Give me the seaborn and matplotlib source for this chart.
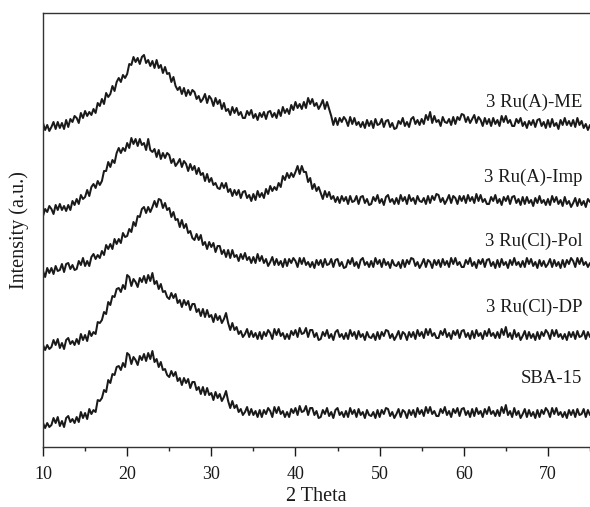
import numpy as np
import pandas as pd
import matplotlib
matplotlib.use("Agg")
import matplotlib.pyplot as plt
import seaborn as sns
from matplotlib.ticker import MultipleLocator

# 2-theta grid: 10..75 deg, step 0.25
theta_start = 10.0
theta_step = 0.25

samples = ["3 Ru(A)-ME", "3 Ru(A)-Imp", "3 Ru(Cl)-Pol", "3 Ru(Cl)-DP", "SBA-15"]

me = [
    324, 317, 322, 316, 320, 325, 318, 325, 319, 324, 318, 327, 320, 328, 325, 331,
    329, 324, 334, 329, 336, 331, 335, 332, 338, 334, 344, 341, 348, 343, 354, 350,
    353, 361, 356, 365, 369, 365, 372, 369, 373, 383, 382, 390, 385, 389, 383, 390,
    392, 384, 387, 381, 386, 379, 387, 379, 382, 374, 380, 373, 374, 365, 370, 361,
    357, 360, 353, 359, 351, 357, 352, 357, 355, 348, 351, 345, 348, 353, 344, 351,
    348, 341, 349, 343, 347, 338, 344, 336, 338, 332, 340, 334, 339, 332, 335, 329,
    329, 336, 332, 337, 329, 333, 327, 334, 330, 335, 328, 335, 336, 330, 334, 329,
    337, 331, 340, 334, 338, 333, 342, 337, 345, 339, 343, 338, 345, 339, 349, 343,
    348, 341, 344, 338, 342, 347, 338, 345, 338, 331, 322, 329, 322, 329, 325, 330,
    327, 321, 330, 323, 329, 322, 325, 320, 325, 319, 327, 321, 326, 319, 328, 322,
    323, 328, 320, 326, 327, 320, 324, 318, 319, 326, 323, 329, 321, 325, 320, 328,
    330, 323, 327, 322, 328, 323, 332, 327, 335, 324, 331, 325, 327, 321, 330, 325,
    324, 328, 322, 330, 323, 330, 327, 333, 332, 325, 330, 324, 328, 332, 324, 330,
    327, 321, 329, 323, 328, 321, 329, 323, 327, 321, 331, 325, 331, 324, 327, 321,
    321, 328, 324, 329, 321, 325, 319, 326, 322, 327, 320, 327, 328, 321, 325, 319,
    327, 320, 328, 321, 324, 318, 327, 322, 329, 322, 326, 321, 327, 320, 329, 322,
    326, 319, 323, 317, 322,
]

imp = [
    231, 238, 235, 241, 238, 233, 242, 237, 243, 237, 241, 236, 242, 237, 246, 242,
    248, 243, 252, 248, 250, 257, 251, 260, 263, 259, 266, 262, 266, 276, 276, 285,
    280, 287, 284, 294, 299, 294, 299, 296, 304, 299, 309, 303, 308, 301, 308, 302,
    304, 297, 308, 297, 295, 298, 290, 297, 288, 294, 289, 294, 292, 284, 288, 281,
    284, 288, 280, 286, 283, 276, 283, 277, 281, 273, 279, 272, 274, 266, 273, 265,
    269, 262, 264, 259, 258, 264, 259, 264, 255, 258, 251, 257, 252, 257, 249, 255,
    256, 249, 252, 246, 253, 247, 256, 250, 254, 249, 258, 253, 261, 256, 260, 257,
    264, 260, 271, 267, 274, 269, 274, 270, 275, 281, 273, 281, 275, 275, 265, 269,
    258, 263, 256, 260, 254, 248, 256, 250, 255, 248, 251, 245, 250, 244, 251, 246,
    250, 243, 251, 245, 246, 251, 243, 250, 251, 244, 248, 242, 243, 250, 246, 252,
    244, 248, 242, 250, 252, 245, 248, 243, 249, 243, 252, 246, 250, 243, 252, 246,
    249, 243, 251, 246, 245, 249, 243, 251, 244, 251, 247, 253, 252, 245, 249, 243,
    247, 252, 244, 251, 249, 243, 251, 246, 251, 244, 252, 246, 250, 244, 253, 246,
    252, 245, 248, 243, 243, 250, 246, 252, 244, 248, 242, 250, 246, 251, 243, 250,
    251, 244, 248, 242, 250, 243, 250, 244, 247, 241, 249, 244, 251, 244, 247, 242,
    248, 242, 251, 245, 250, 243, 247, 241, 250, 243, 246, 240, 244, 249, 241, 248,
    242, 246, 240, 248, 245,
]

pol = [
    176, 170, 179, 174, 179, 173, 181, 176, 177, 183, 175, 183, 184, 178, 182, 177,
    178, 186, 182, 189, 181, 186, 181, 190, 193, 188, 192, 189, 196, 192, 202, 198,
    203, 198, 208, 203, 208, 204, 214, 210, 211, 218, 215, 225, 221, 231, 230, 238,
    240, 234, 240, 235, 240, 246, 240, 248, 247, 239, 244, 237, 239, 230, 235, 227,
    228, 220, 227, 219, 223, 214, 216, 209, 207, 213, 207, 212, 202, 205, 198, 205,
    200, 204, 195, 201, 201, 193, 197, 190, 197, 189, 197, 190, 192, 186, 193, 188,
    194, 187, 190, 184, 190, 184, 193, 186, 191, 184, 188, 181, 185, 190, 182, 188,
    182, 186, 180, 188, 181, 188, 184, 189, 186, 180, 189, 183, 189, 182, 185, 180,
    185, 179, 187, 182, 187, 180, 188, 182, 183, 188, 180, 187, 188, 181, 185, 179,
    180, 187, 183, 189, 181, 185, 179, 187, 189, 182, 185, 180, 186, 180, 189, 183,
    187, 180, 188, 182, 185, 179, 187, 182, 181, 185, 179, 187, 180, 187, 183, 189,
    188, 181, 185, 179, 183, 188, 180, 187, 185, 179, 187, 182, 187, 180, 188, 182,
    186, 180, 189, 183, 189, 182, 185, 180, 180, 187, 183, 189, 181, 185, 179, 187,
    183, 188, 180, 187, 188, 181, 185, 179, 187, 180, 188, 182, 185, 179, 187, 182,
    189, 182, 185, 180, 186, 180, 189, 183, 188, 181, 185, 179, 187, 181, 186, 180,
    183, 188, 180, 187, 181, 185, 179, 187, 180, 187, 183, 189, 186, 180, 189, 183,
    189, 182, 185, 180, 184,
]

dp = [
    102, 97, 102, 98, 100, 107, 102, 108, 99, 104, 98, 107, 109, 103, 106, 102,
    108, 103, 113, 107, 112, 106, 116, 111, 115, 113, 125, 124, 127, 135, 133, 145,
    142, 151, 150, 158, 159, 155, 162, 158, 172, 170, 161, 168, 165, 160, 169, 165,
    171, 164, 172, 166, 174, 163, 166, 158, 163, 155, 156, 150, 148, 154, 149, 153,
    144, 147, 140, 147, 142, 146, 137, 143, 143, 135, 138, 131, 138, 130, 137, 130,
    132, 125, 133, 127, 131, 124, 128, 134, 124, 117, 124, 117, 120, 113, 116, 110,
    113, 118, 110, 116, 110, 114, 108, 115, 108, 115, 111, 117, 114, 108, 118, 112,
    118, 111, 114, 108, 113, 108, 116, 112, 117, 110, 119, 113, 114, 119, 110, 117,
    117, 110, 114, 107, 108, 115, 111, 117, 109, 113, 107, 115, 117, 110, 113, 108,
    114, 108, 117, 111, 115, 108, 116, 110, 113, 107, 115, 110, 109, 113, 107, 115,
    108, 115, 111, 117, 116, 109, 113, 107, 111, 116, 108, 115, 113, 107, 115, 110,
    115, 108, 117, 111, 115, 109, 118, 112, 118, 111, 114, 109, 109, 116, 112, 118,
    110, 114, 108, 116, 112, 117, 109, 116, 117, 110, 114, 108, 116, 109, 117, 111,
    114, 108, 116, 111, 118, 111, 114, 109, 115, 109, 118, 112, 120, 110, 114, 108,
    117, 110, 114, 107, 111, 116, 108, 115, 109, 113, 107, 115, 108, 115, 111, 117,
    114, 108, 117, 111, 117, 110, 113, 108, 113, 107, 115, 110, 115, 108, 116, 110,
    111, 116, 108, 115, 110,
]

sba = [
    24, 19, 24, 20, 22, 29, 24, 30, 21, 26, 20, 29, 31, 25, 28, 24,
    30, 25, 35, 29, 34, 28, 38, 33, 37, 35, 47, 46, 49, 57, 55, 67,
    64, 73, 72, 80, 81, 77, 84, 80, 94, 92, 83, 90, 87, 82, 91, 87,
    93, 86, 94, 88, 96, 85, 88, 80, 85, 77, 78, 72, 70, 76, 71, 75,
    66, 69, 62, 69, 64, 68, 59, 65, 65, 57, 60, 53, 60, 52, 59, 52,
    54, 47, 55, 49, 53, 46, 50, 56, 46, 39, 46, 39, 42, 35, 38, 32,
    35, 40, 32, 38, 32, 36, 30, 37, 30, 37, 33, 39, 36, 30, 40, 34,
    40, 33, 36, 30, 35, 30, 38, 34, 39, 32, 41, 35, 36, 41, 32, 39,
    39, 32, 36, 29, 30, 37, 33, 39, 31, 35, 29, 37, 39, 32, 35, 30,
    36, 30, 39, 33, 37, 30, 38, 32, 35, 29, 37, 32, 31, 35, 29, 37,
    30, 37, 33, 39, 38, 31, 35, 29, 33, 38, 30, 37, 35, 29, 37, 32,
    37, 30, 39, 33, 37, 31, 40, 34, 40, 33, 36, 31, 31, 38, 34, 40,
    32, 36, 30, 38, 34, 39, 31, 38, 39, 32, 36, 30, 38, 31, 39, 33,
    36, 30, 38, 33, 40, 33, 36, 31, 37, 31, 40, 34, 42, 32, 36, 30,
    39, 32, 36, 29, 33, 38, 30, 37, 31, 35, 29, 37, 30, 37, 33, 39,
    36, 30, 39, 33, 39, 32, 35, 30, 35, 29, 37, 32, 37, 30, 38, 32,
    33, 38, 30, 37, 32,
]

label_y = [345, 270, 206, 140, 69]

series = [me, imp, pol, dp, sba]
n = len(me)
two_theta = theta_start + theta_step * np.arange(n)

frames = []
for name, vals in zip(samples, series):
    frames.append(pd.DataFrame({"two_theta": two_theta, "intensity": vals, "sample": name}))
df = pd.concat(frames, ignore_index=True)

sns.set_theme(style="white")
plt.rcParams["font.family"] = ["Liberation Serif", "DejaVu Serif"]

fig = plt.figure(figsize=(5.9, 5.07), dpi=100)
ax = fig.add_axes([0.0729, 0.1183, 0.9271, 0.8561])

sns.lineplot(data=df, x="two_theta", y="intensity", hue="sample", units="sample",
             estimator=None, sort=False, palette=["#1a1a1a"] * 5, linewidth=1.45,
             legend=False, ax=ax)

for name, yv in zip(samples, label_y):
    ax.text(74.1, yv, name, ha="right", va="center", fontsize=13.5, color="#1a1a1a")

ax.set_xlim(10, 75)
ax.set_ylim(0, 434)
ax.set_yticks([])
ax.xaxis.set_major_locator(MultipleLocator(10))
ax.xaxis.set_minor_locator(MultipleLocator(5))
ax.tick_params(axis="x", which="major", direction="out", length=6.5, width=1,
               labelsize=13, colors="#1a1a1a", bottom=True, pad=7)
ax.tick_params(axis="x", which="minor", direction="out", length=3.2, width=1, bottom=True)
ax.set_xlabel("2 Theta", fontsize=14.5, color="#1a1a1a", labelpad=3)
ax.set_ylabel("Intensity (a.u.)", fontsize=14.5, color="#1a1a1a", labelpad=10)

for side in ["left", "bottom", "top"]:
    ax.spines[side].set_visible(True)
    ax.spines[side].set_color("#333333")
    ax.spines[side].set_linewidth(1.0)
ax.spines["right"].set_visible(False)

fig.savefig("out.png", dpi=100)
